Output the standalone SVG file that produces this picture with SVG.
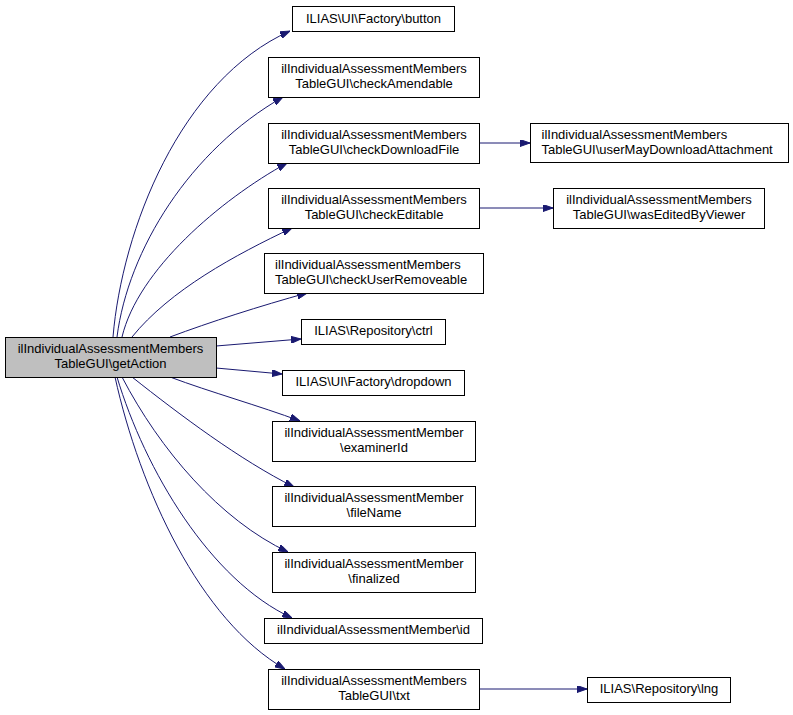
<svg xmlns="http://www.w3.org/2000/svg" width="793" height="715" viewBox="0 0 793 715">
<style>
.n rect{fill:#ffffff;stroke:#000000;stroke-width:1}
.n.root rect{fill:#bfbfbf}
.n text{font-family:"Liberation Sans",Arial,sans-serif;font-size:13px;fill:#000000;text-anchor:middle}
.n text.l{text-anchor:start}
.e path{fill:none;stroke:#191970;stroke-width:1;marker-end:url(#ah)}
</style>
<defs>
<marker id="ah" viewBox="0 0 10 7" refX="10" refY="3.5" markerWidth="10" markerHeight="7" markerUnits="userSpaceOnUse" orient="auto">
<path d="M0,0 L10,3.5 L0,7 Z" fill="#191970" stroke="#191970" stroke-width="1"/>
</marker>
</defs>
<rect width="793" height="715" fill="#ffffff"/>
<g id="edges" class="e">
<path d="M113,337 C122,230 180,80 290,31"/>
<path d="M117,337 C128,250 190,150 283,97"/>
<path d="M122,337 C138,270 220,200 287,163"/>
<path d="M132,337 C170,290 235,255 292,228"/>
<path d="M170,337 C210,322 260,306 307,293"/>
<path d="M216,346 L301,339"/>
<path d="M216,368 L282,374"/>
<path d="M170,377 C210,392 260,406 300,421"/>
<path d="M132,377 C180,415 240,460 294,487"/>
<path d="M122,377 C160,450 220,520 288,552"/>
<path d="M117,377 C145,470 210,580 292,618"/>
<path d="M115,377 C140,490 200,620 285,669"/>
<path d="M479,143 L530,143"/>
<path d="M479,208 L553,208"/>
<path d="M479,689 L587,689"/>
</g>
<g id="getAction" class="n root">
<rect x="5.5" y="337.5" width="211" height="40"/>
<text x="110.5" y="353">ilIndividualAssessmentMembers</text>
<text x="110.5" y="368">TableGUI\getAction</text>
</g>
<g id="button" class="n">
<rect x="292.5" y="6.5" width="162" height="25"/>
<text x="373.5" y="23">ILIAS\UI\Factory\button</text>
</g>
<g id="checkAmendable" class="n">
<rect x="268.5" y="57.5" width="211" height="40"/>
<text x="374" y="73">ilIndividualAssessmentMembers</text>
<text x="374" y="88">TableGUI\checkAmendable</text>
</g>
<g id="checkDownloadFile" class="n">
<rect x="268.5" y="123.5" width="211" height="40"/>
<text x="374" y="139">ilIndividualAssessmentMembers</text>
<text x="374" y="154">TableGUI\checkDownloadFile</text>
</g>
<g id="checkEditable" class="n">
<rect x="268.5" y="188.5" width="211" height="40"/>
<text x="374" y="204">ilIndividualAssessmentMembers</text>
<text x="374" y="219">TableGUI\checkEditable</text>
</g>
<g id="checkUserRemoveable" class="n">
<rect x="264.5" y="253.5" width="219" height="40"/>
<text class="l" x="275" y="269">ilIndividualAssessmentMembers</text>
<text class="l" x="275" y="284">TableGUI\checkUserRemoveable</text>
</g>
<g id="ctrl" class="n">
<rect x="301.5" y="319.5" width="144" height="25"/>
<text x="373.5" y="335">ILIAS\Repository\ctrl</text>
</g>
<g id="dropdown" class="n">
<rect x="282.5" y="370.5" width="182" height="25"/>
<text x="373.5" y="386">ILIAS\UI\Factory\dropdown</text>
</g>
<g id="examinerId" class="n">
<rect x="272.5" y="421.5" width="203" height="40"/>
<text x="374" y="437">ilIndividualAssessmentMember</text>
<text x="374" y="452">\examinerId</text>
</g>
<g id="fileName" class="n">
<rect x="272.5" y="486.5" width="203" height="40"/>
<text x="374" y="502">ilIndividualAssessmentMember</text>
<text x="374" y="517">\fileName</text>
</g>
<g id="finalized" class="n">
<rect x="272.5" y="552.5" width="203" height="40"/>
<text x="374" y="568">ilIndividualAssessmentMember</text>
<text x="374" y="583">\finalized</text>
</g>
<g id="id" class="n">
<rect x="264.5" y="618.5" width="218" height="25"/>
<text x="373.5" y="634">ilIndividualAssessmentMember\id</text>
</g>
<g id="txt" class="n">
<rect x="268.5" y="669.5" width="211" height="40"/>
<text x="374" y="685">ilIndividualAssessmentMembers</text>
<text x="374" y="700">TableGUI\txt</text>
</g>
<g id="userMayDownloadAttachment" class="n">
<rect x="530.5" y="123.5" width="258" height="39"/>
<text class="l" x="541.5" y="139">ilIndividualAssessmentMembers</text>
<text class="l" x="541.5" y="154">TableGUI\userMayDownloadAttachment</text>
</g>
<g id="wasEditedByViewer" class="n">
<rect x="553.5" y="188.5" width="211" height="40"/>
<text x="659" y="204">ilIndividualAssessmentMembers</text>
<text x="659" y="219">TableGUI\wasEditedByViewer</text>
</g>
<g id="lng" class="n">
<rect x="587.5" y="677.5" width="143" height="25"/>
<text x="659" y="693">ILIAS\Repository\lng</text>
</g>
</svg>
